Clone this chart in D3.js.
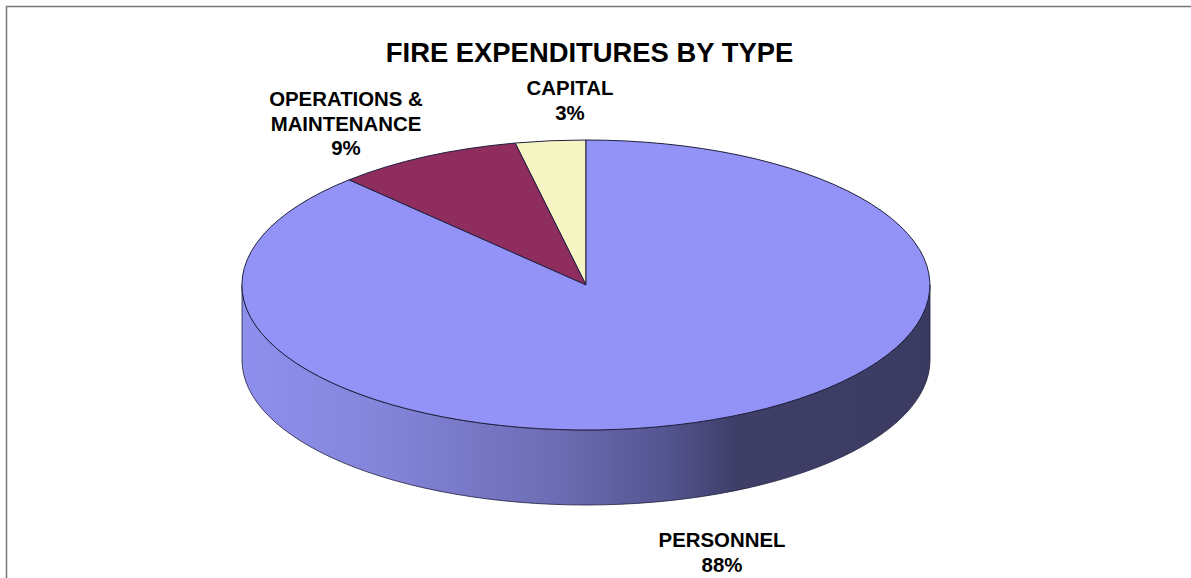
<!DOCTYPE html>
<html><head><meta charset="utf-8">
<script src="https://cdn.jsdelivr.net/npm/d3@7"></script>
<style>html,body{margin:0;padding:0;background:#fff}svg{display:block}text{font-family:"Liberation Sans",Arial,sans-serif;font-weight:bold;fill:#000;text-anchor:middle}</style>
</head><body><svg id="c" width="1191" height="578"></svg>
<script>
const categories = ["CAPITAL", "OPERATIONS & MAINTENANCE", "PERSONNEL"];
const values = [3.3, 8.8, 87.9];
const percentLabels = ["3%", "9%", "88%"];
const colors = ["#f5f5c4", "#8f2d5e", "#9393f7"];
const title = "FIRE EXPENDITURES BY TYPE";
const labelLines = [["CAPITAL","3%"],["OPERATIONS &","MAINTENANCE","9%"],["PERSONNEL","88%"]];
const labelPos = [[570,95],[346,106],[722,547]];
const sideStops = [[0,"#8f8fee"],[0.2,"#8385d9"],[0.45,"#6d6db5"],[0.62,"#53548f"],[0.72,"#3e3e68"],[1,"#3b3b62"]];

const W=1191,H=578,cx=586,cy=285,rx=344,ry=145,depth=75;
const svg=d3.select("#c");
svg.append("path").attr("d",`M6.5,${H}V6.5H${W}`).attr("fill","none").attr("stroke","#777").attr("stroke-width",1.5);
svg.append("text").attr("x",589.5).attr("y",61.5).attr("font-size",27.4).text(title);

const defs=svg.append("defs");
const lg=defs.append("linearGradient").attr("id","side").attr("gradientUnits","userSpaceOnUse")
  .attr("x1",cx-rx).attr("x2",cx+rx).attr("y1",0).attr("y2",0);
lg.selectAll("stop").data(sideStops).join("stop").attr("offset",d=>d[0]).attr("stop-color",d=>d[1]);

const sx=d3.scaleLinear().domain([-1,1]).range([cx-rx,cx+rx]);
const sy=d3.scaleLinear().domain([-1,1]).range([cy-ry,cy+ry]);
const sidePath=`M${sx(-1)},${sy(0)}L${sx(-1)},${sy(0)+depth}A${rx},${ry} 0 0 0 ${sx(1)},${sy(0)+depth}L${sx(1)},${sy(0)}A${rx},${ry} 0 0 1 ${sx(-1)},${sy(0)}Z`;
svg.append("path").attr("d",sidePath).attr("fill","url(#side)").attr("stroke","#20203f").attr("stroke-width",0.8);

// slices run counter-clockwise from twelve o'clock
const pie=d3.pie().sort(null).startAngle(0).endAngle(-2*Math.PI).value(d=>d)(values);
const arc=d3.arc().innerRadius(0).outerRadius(1);
const topFace=svg.append("g").attr("transform",`translate(${cx},${cy}) scale(${rx},${ry})`);
topFace.selectAll("path").data(pie).join("path")
  .attr("d",arc).attr("fill",(d,i)=>colors[i])
  .attr("stroke","#20203f").attr("stroke-width",1).attr("vector-effect","non-scaling-stroke");

labelLines.forEach((lines,i)=>{
  const t=svg.append("text").attr("font-size",20.4);
  lines.forEach((l,j)=>t.append("tspan").attr("x",labelPos[i][0]).attr("y",labelPos[i][1]+j*(i==1?24.5:25)).text(l));
});
</script></body></html>
